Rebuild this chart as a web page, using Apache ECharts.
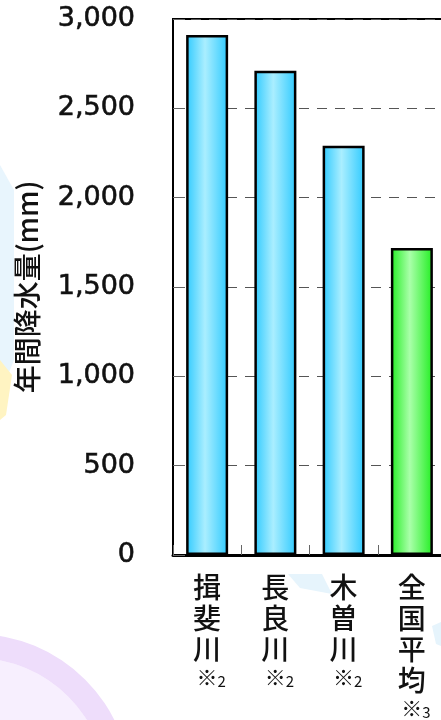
<!DOCTYPE html>
<html>
<head>
<meta charset="utf-8">
<script src="https://cdn.jsdelivr.net/npm/echarts@6/dist/echarts.min.js"></script>
<style>
html,body{margin:0;padding:0;background:#fff}
#main{width:441px;height:720px}
</style>
</head>
<body>
<div id="main"></div>
<script>
// 年間降水量の比較(木曽三川と全国平均)
var categories = ['揖斐川', '長良川', '木曽川', '全国平均'];
var notes = ['2', '2', '2', '3'];
var rainfall = [2910, 2710, 2290, 1718];
var yTicks = [0, 500, 1000, 1500, 2000, 2500, 3000];

function barGrad(edge, mid){
    return new echarts.graphic.LinearGradient(0, 0, 1, 0, [
        {offset: 0, color: edge},
        {offset: 0.45, color: mid},
        {offset: 1, color: edge}
    ]);
}
var blue = barGrad('#2fcaff', '#aaeeff');
var green = barGrad('#22ee22', '#aaffaa');

var barData = [];
for (var i = 0; i < rainfall.length; i++) {
    barData.push({
        value: rainfall[i],
        itemStyle: {color: i == 3 ? green : blue}
    });
}

var myChart = echarts.init(document.getElementById('main'));
var option = {
    backgroundColor: '#fff',
    animation: false,
    // 背景の飾り
    graphic: [
        {type: 'polygon', z: -10, shape: {points: [[0,165],[14,190],[14,360],[4,385],[0,385]]}, style: {fill: '#e8f5fd'}},
        {type: 'polygon', z: -10, shape: {points: [[0,360],[12,375],[6,415],[0,420]]}, style: {fill: '#fff4c2'}},
        {type: 'polygon', z: -10, shape: {points: [[288,574],[322,574],[332,594],[300,588]]}, style: {fill: '#e6f4fc'}},
        {type: 'polygon', z: -10, shape: {points: [[432,626],[441,622],[441,646],[436,644]]}, style: {fill: '#e6f4fc'}},
        {type: 'circle', z: -10, shape: {cx: -25, cy: 790, r: 132}, style: {fill: '#f7effe'}},
        {type: 'ring', z: -9, shape: {cx: -25, cy: 790, r: 156, r0: 132}, style: {fill: '#eeddfb'}}
    ],
    grid: {
        left: 173,
        top: 19,
        width: 273,
        bottom: 165,
        outerBoundsMode: 'none',
        show: true,
        borderColor: '#000',
        borderWidth: 2
    },
    xAxis: {
        type: 'category',
        data: categories,
        axisLine: {lineStyle: {color: '#000', width: 3}},
        axisTick: {show: true, inside: true, length: 10, lineStyle: {color: '#666', width: 1}},
        axisLabel: {
            margin: 17,
            interval: 0,
            verticalAlign: 'top',
            formatter: function(value, idx){
                var s = value.split('').map(function(c){ return '{c|' + c + '}'; }).join('\n');
                return s + '\n{s|※}{n|' + notes[idx] + '}';
            },
            rich: {
                c: {fontSize: 28, lineHeight: 31, color: '#111', fontFamily: 'Noto Sans CJK JP', fontWeight: 500},
                s: {fontSize: 21, lineHeight: 24, color: '#111', fontFamily: 'Noto Sans CJK JP', padding: [0,0,0,8]},
                n: {fontSize: 15, lineHeight: 24, color: '#111', fontFamily: 'Noto Sans CJK JP', verticalAlign: 'bottom'}
            }
        }
    },
    yAxis: {
        type: 'value',
        min: yTicks[0],
        max: yTicks[yTicks.length - 1],
        interval: yTicks[1] - yTicks[0],
        name: '年間降水量(mm)',
        nameLocation: 'middle',
        nameRotate: 90,
        nameGap: 132,
        nameTextStyle: {fontSize: 28, color: '#111', fontFamily: 'Noto Sans CJK JP', fontWeight: 500},
        axisLine: {show: true, lineStyle: {color: '#000', width: 2}},
        axisTick: {show: true, inside: true, length: 12, lineStyle: {color: '#666', width: 1}},
        axisLabel: {
            margin: 38,
            fontSize: 27,
            color: '#111',
            fontFamily: 'DejaVu Sans',
            textBorderColor: '#111',
            textBorderWidth: 0.6,
            formatter: function(v){ return v.toLocaleString('en-US'); }
        },
        splitLine: {show: true, lineStyle: {color: '#555', type: [10, 8], width: 1}}
    },
    series: [{
        type: 'bar',
        data: barData,
        barWidth: 42,
        itemStyle: {borderColor: '#000', borderWidth: 2.5}
    }]
};
myChart.setOption(option);
</script>
</body>
</html>
